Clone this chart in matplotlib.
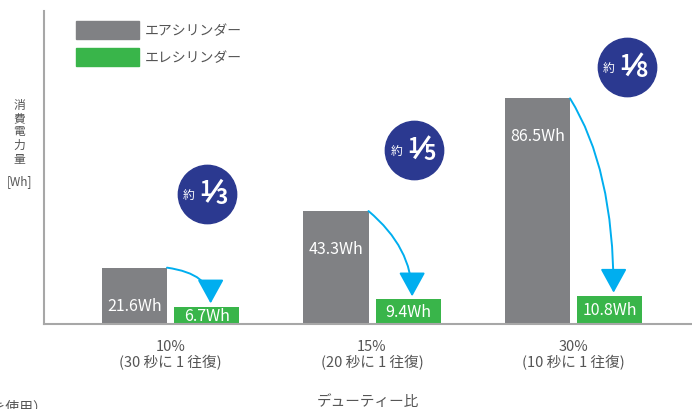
import matplotlib
matplotlib.use('Agg')
import matplotlib.pyplot as plt
from matplotlib.patches import FancyArrowPatch, Patch
from matplotlib.lines import Line2D
from matplotlib.transforms import offset_copy
import numpy as np

plt.rcParams['font.family'] = ['Noto Sans CJK JP', 'DejaVu Sans']

# data
categories = ['10%\n(30 秒に 1 往復)', '15%\n(20 秒に 1 往復)', '30%\n(10 秒に 1 往復)']
air = [21.6, 43.3, 86.5]
ele = [6.7, 9.4, 10.8]
ratios = ['3', '5', '8']
series_names = ['エアシリンダー', 'エレシリンダー']

gray = '#808184'
green = '#39b54a'
navy = '#2b3990'
cyan = '#00aeef'
axis_col = '#a7a7a7'
text_col = '#555555'

fig = plt.figure(figsize=(6.92, 4.10), dpi=100)
ax = fig.add_axes([44 / 692, 85 / 410, 648 / 692, 313 / 410])

x = np.arange(len(categories))
w = 0.323
off = 0.179
ax.bar(x - off, air, w, color=gray)
ax.bar(x + off, ele, w, color=green)

ax.set_xlim(-0.628, 2.588)
ax.set_ylim(0, 120)

for s in ['top', 'right']:
    ax.spines[s].set_visible(False)
for s in ['left', 'bottom']:
    ax.spines[s].set_color(axis_col)
    ax.spines[s].set_linewidth(1.5)
ax.set_yticks([])
ax.set_xticks(x)
ax.set_xticklabels(categories, fontsize=10.5, color=text_col, linespacing=1.05)
ax.tick_params(axis='x', length=0, pad=11)

ax.set_xlabel('デューティー比', fontsize=10.5, color=text_col, labelpad=18)

# vertical y label
fig.text(19 / 692, 1 - 132 / 410, '消\n費\n電\n力\n量', fontsize=8.5, color=text_col,
         ha='center', va='center', linespacing=1.05)
fig.text(19 / 692, 1 - 182 / 410, '[Wh]', fontsize=8.5, color=text_col,
         ha='center', va='center')

# footnote, clipped at the left edge as in the source
fig.text(47 / 692, 1 - 408 / 410, '（同サイズを使用）', fontsize=10, color=text_col,
         ha='right', va='center')

# value labels
for i in range(len(x)):
    ax.annotate(f'{air[i]}Wh', (x[i] - off, air[i]), xytext=(0, -27),
                textcoords='offset points', ha='center', va='center',
                color='white', fontsize=11.5)
    ax.annotate(f'{ele[i]}Wh', (x[i] + off, ele[i] / 2), xytext=(0, 0),
                textcoords='offset points', ha='center', va='center',
                color='white', fontsize=11.5)

# curved arrows
start_angles = [-8, -40, -58]
for i in range(len(x)):
    start = (x[i] - off + w / 2, air[i])
    end = (x[i] + off + 0.02, ele[i] + 1.2)
    arr = FancyArrowPatch(start, end,
                          connectionstyle=f'angle3,angleA={start_angles[i]},angleB=90',
                          arrowstyle='-|>,head_length=1.0,head_width=0.55',
                          mutation_scale=15, color=cyan, lw=1.4,
                          shrinkA=0, shrinkB=0)
    ax.add_patch(arr)

# ratio badges
badge_x = [0.18, 0.21, 0.265]
badge_y = [50, 66.7, 98.5]
for i in range(len(x)):
    bx, by = x[i] + badge_x[i], badge_y[i]
    ax.plot(bx, by, 'o', markersize=42, color=navy, zorder=5)
    ax.annotate('約', (bx, by), xytext=(-13, -1), textcoords='offset points',
                ha='center', va='center', color='white', fontsize=8.5, zorder=6)
    ax.annotate('1', (bx, by), xytext=(-1, 3.5), textcoords='offset points',
                ha='center', va='center', color='white', fontsize=15,
                fontweight='bold', zorder=6)
    ax.annotate(ratios[i], (bx, by), xytext=(11, -2), textcoords='offset points',
                ha='center', va='center', color='white', fontsize=15,
                fontweight='bold', zorder=6)
    t0 = offset_copy(ax.transData, fig=fig, x=0, y=-6, units='points')
    t1 = offset_copy(ax.transData, fig=fig, x=11, y=10, units='points')
    p0 = t0.transform((bx, by))
    p1 = t1.transform((bx, by))
    ax.add_line(Line2D([p0[0], p1[0]], [p0[1], p1[1]], transform=None,
                       color='white', lw=2.2, solid_capstyle='butt', zorder=6))

# legend
handles = [Patch(color=gray), Patch(color=green)]
leg = fig.legend(handles, series_names, loc='upper left',
                 bbox_to_anchor=(63 / 692, 1 - 9 / 410), frameon=False,
                 handlelength=4.6, handleheight=1.7, labelspacing=0.6,
                 handletextpad=0.4, fontsize=10)
for t in leg.get_texts():
    t.set_color(text_col)

fig.savefig('out.png', dpi=100)
